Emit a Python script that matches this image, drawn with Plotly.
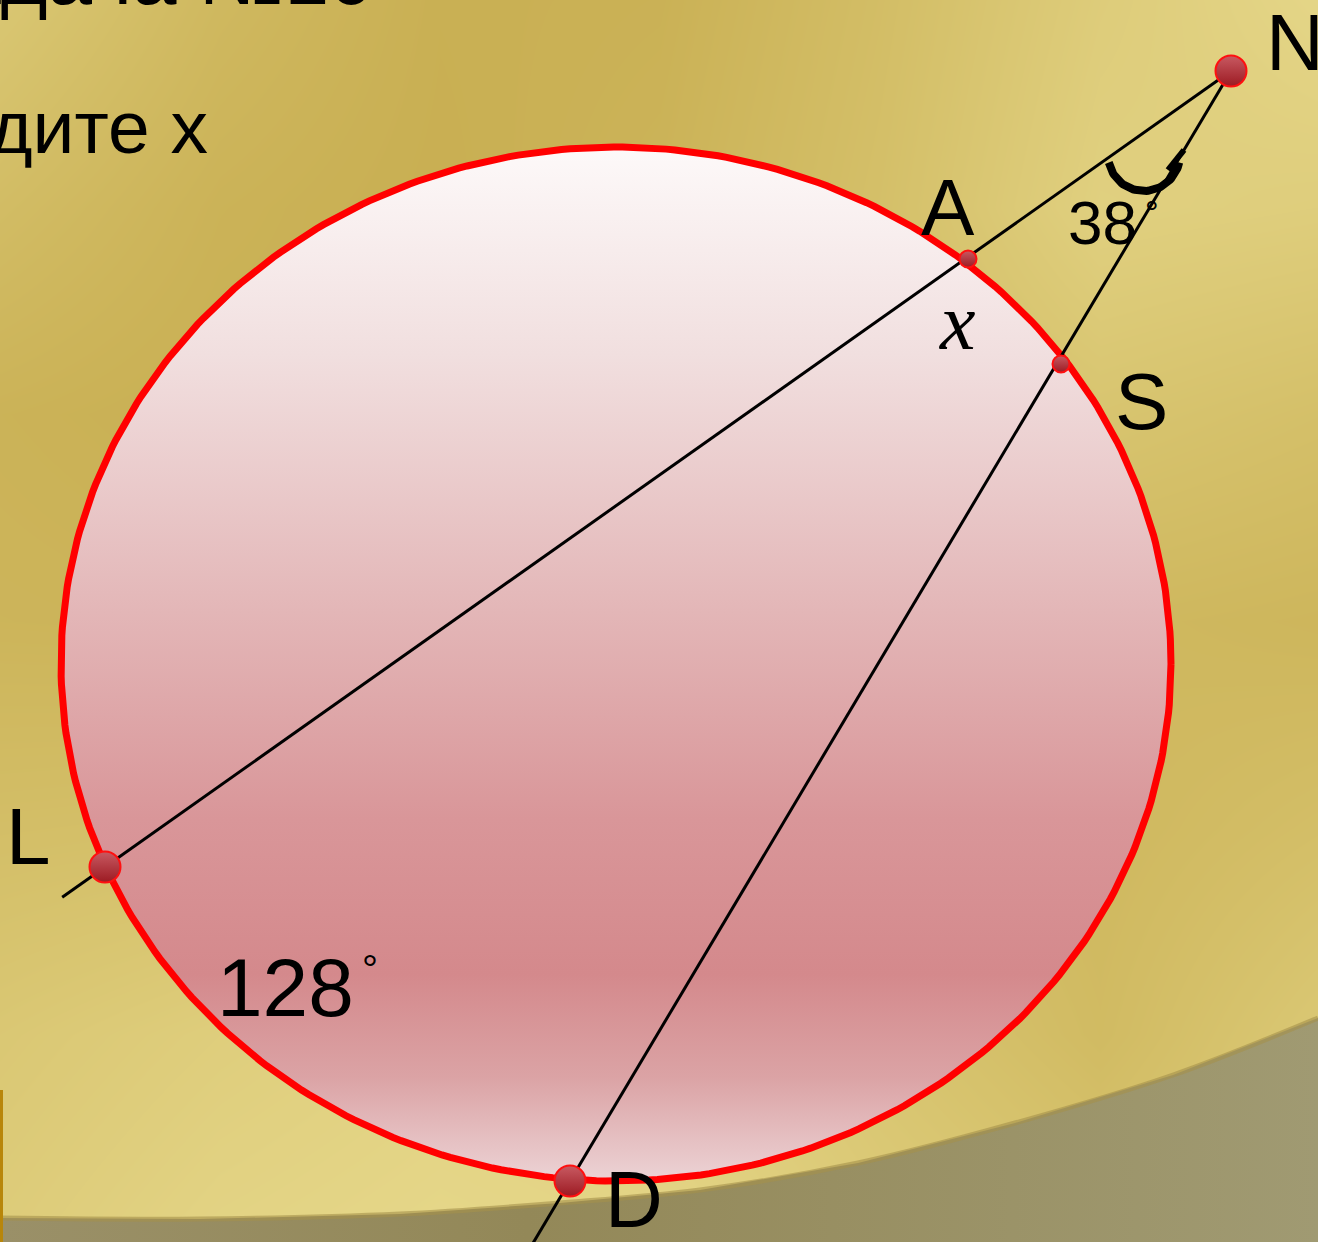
import numpy as np
import plotly.graph_objects as go

W, H = 1318, 1242

# ---- data (pixel geometry) ----
point_names = ["N", "A", "S", "L", "D"]
point_x = [1231, 968, 1061, 105, 570]
point_y = [71, 259, 364, 867, 1181]
point_size = [31, 17, 17, 31, 31]

circle_center = (616, 664)
circle_radii = (555, 517)

angle_label = "38"
arc_label = "128"
unknown_label = "x"
title_line1 = "Задача №10"
title_line2 = "Найдите x"

label_x = [1295, 948, 1141, 28, 634]
label_y = [43, 208, 402, 837, 1200]

# background brightness grid (0 = dark gold, 1 = light gold)
bg_x = [0, 220, 440, 660, 880, 1100, 1318]
bg_y = [0, 207, 414, 621, 828, 1035, 1242]
bg_z = [
    [0.60, 0.30, 0.12, 0.15, 0.40, 0.72, 0.92],
    [0.38, 0.18, 0.10, 0.20, 0.45, 0.80, 0.75],
    [0.18, 0.12, 0.15, 0.25, 0.40, 0.55, 0.45],
    [0.22, 0.20, 0.25, 0.30, 0.35, 0.30, 0.25],
    [0.42, 0.45, 0.50, 0.45, 0.35, 0.30, 0.42],
    [0.62, 0.75, 0.85, 0.80, 0.55, 0.35, 0.62],
    [0.72, 0.88, 0.95, 0.90, 0.70, 0.55, 0.70],
]

ground_x = [0, 200, 400, 560, 700, 858, 1015, 1173, 1318]
ground_y = [1218, 1219, 1214, 1203, 1190, 1163, 1123, 1075, 1018]

fig = go.Figure()

# background
fig.add_trace(go.Heatmap(
    x=bg_x, y=bg_y, z=bg_z, zsmooth="best", showscale=False, hoverinfo="skip",
    colorscale=[[0, "#c5aa4c"], [0.5, "#d6c26c"], [1, "#e7d98c"]], zmin=0, zmax=1,
))

# grey ground region
gx = list(ground_x) + [W, 0, 0]
gy = list(ground_y) + [H, H, ground_y[0]]
fig.add_trace(go.Scatter(
    x=gx, y=gy, mode="lines", fill="toself", line=dict(width=0),
    fillgradient=dict(type="horizontal", colorscale=[[0, "#9a9068"], [0.4, "#938858"], [1, "#a09a72"]]),
    hoverinfo="skip", showlegend=False,
))
fig.add_trace(go.Scatter(
    x=ground_x, y=ground_y, mode="lines",
    line=dict(color="rgba(165,145,75,0.6)", width=5, shape="spline"),
    hoverinfo="skip", showlegend=False,
))
# small orange bar at the left edge
fig.add_trace(go.Scatter(
    x=[0, 3, 3, 0, 0], y=[1090, 1090, H, H, 1090], mode="lines", fill="toself",
    fillcolor="#b8860b", line=dict(width=0), hoverinfo="skip", showlegend=False,
))

# circle
t = np.linspace(0, 2 * np.pi, 400)
cx, cy = circle_center
rx, ry = circle_radii
ex = cx + rx * np.cos(t)
ey = cy + ry * np.sin(t)
fig.add_trace(go.Scatter(
    x=ex, y=ey, mode="lines", fill="toself",
    fillgradient=dict(type="vertical", colorscale=[
        [0.0, "#ecd3d5"], [0.1, "#dba3a5"], [0.2, "#d4898c"], [0.35, "#d99699"],
        [0.55, "#e3b6b7"], [0.8, "#f1dfdf"], [1.0, "#fdf9f9"]]),
    line=dict(color="#ff0000", width=7), hoverinfo="skip", showlegend=False,
))

# secant lines through N
Nx, Ny = point_x[0], point_y[0]
for idx, tmax in ((3, 1.038), (4, 1.06)):
    px, py = point_x[idx], point_y[idx]
    fig.add_trace(go.Scatter(
        x=[Nx, Nx + tmax * (px - Nx)], y=[Ny, Ny + tmax * (py - Ny)],
        mode="lines", line=dict(color="black", width=3),
        hoverinfo="skip", showlegend=False,
    ))

# angle arc mark near N
ang = np.radians(np.linspace(168, 12, 60))
acx, acy, ar = 1144, 155, 36
fig.add_trace(go.Scatter(
    x=acx + ar * np.cos(ang), y=acy + ar * np.sin(ang),
    mode="lines", line=dict(color="black", width=8), hoverinfo="skip", showlegend=False,
))
fig.add_trace(go.Scatter(
    x=[1168, 1184], y=[170, 150], mode="lines",
    line=dict(color="black", width=6), hoverinfo="skip", showlegend=False,
))

# points
fig.add_trace(go.Scatter(
    x=point_x, y=point_y, mode="markers",
    marker=dict(size=point_size, color="#c85a62", opacity=1,
                gradient=dict(type="vertical", color="#9c1a22"),
                line=dict(color="#ff1010", width=2)),
    hoverinfo="skip", showlegend=False,
))

ann = []
font_s = "Liberation Sans, Arial, sans-serif"
for name, lx, ly in zip(point_names, label_x, label_y):
    ann.append(dict(x=lx, y=ly, text=name, showarrow=False, xanchor="center", yanchor="middle",
                    yshift=1, font=dict(family=font_s, size=80, color="black")))
ann.append(dict(x=285, y=987, text=arc_label, showarrow=False, xanchor="center", yanchor="middle",
                yshift=0, font=dict(family=font_s, size=82, color="black")))
ann.append(dict(x=370, y=962, text="°", showarrow=False, xanchor="center", yanchor="middle",
                yshift=-7, font=dict(family=font_s, size=40, color="black")))
ann.append(dict(x=1102, y=224, text=angle_label, showarrow=False, xanchor="center", yanchor="middle",
                yshift=2, font=dict(family=font_s, size=62, color="black")))
ann.append(dict(x=1152, y=205, text="°", showarrow=False, xanchor="center", yanchor="middle",
                yshift=-7, font=dict(family=font_s, size=34, color="black")))
ann.append(dict(x=957, y=327, text="<i>" + unknown_label + "</i>", showarrow=False,
                xanchor="center", yanchor="middle", yshift=5,
                font=dict(family="Liberation Serif, serif", size=80, color="black")))
ann.append(dict(x=375, y=0, text=title_line1, showarrow=False, xanchor="right", yanchor="middle",
                yshift=24, font=dict(family=font_s, size=80, color="black")))
ann.append(dict(x=210, y=127, text=title_line2, showarrow=False, xanchor="right", yanchor="middle",
                font=dict(family=font_s, size=75, color="black")))

fig.update_layout(
    width=W, height=H, autosize=False,
    margin=dict(l=0, r=0, t=0, b=0),
    paper_bgcolor="#d6c26c", plot_bgcolor="#d6c26c",
    xaxis=dict(range=[0, W], visible=False, fixedrange=True),
    yaxis=dict(range=[H, 0], visible=False, fixedrange=True),
    annotations=ann, showlegend=False,
)

fig.write_html("out.html", include_plotlyjs=True, config={"displayModeBar": False},
               post_script="document.body.style.margin='0';document.body.style.overflow='hidden';")
